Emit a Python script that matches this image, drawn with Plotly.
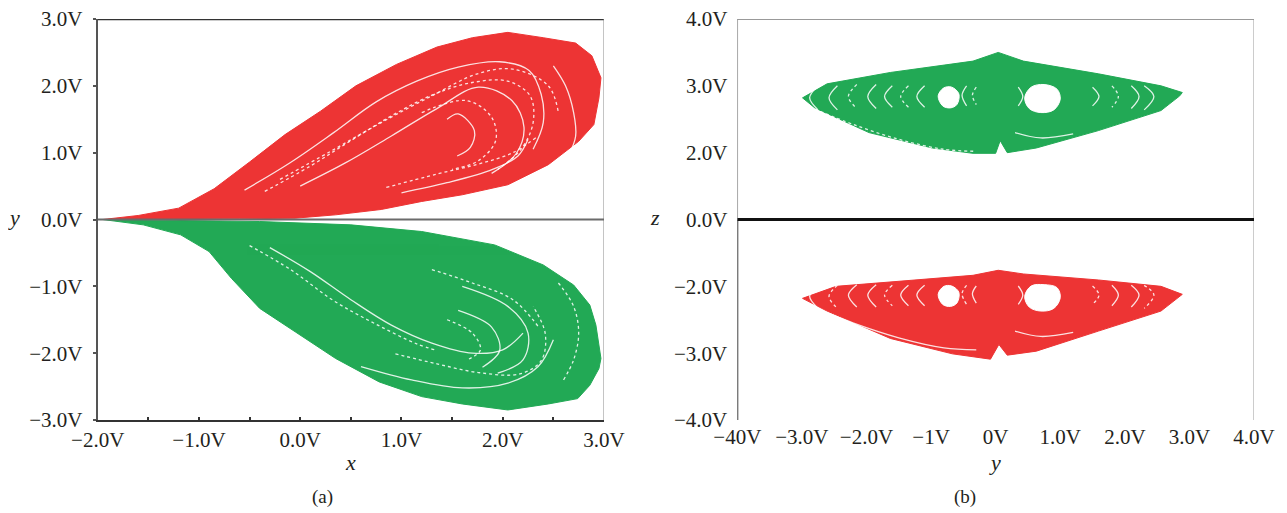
import numpy as np
import plotly.graph_objects as go

# the page body adds an 8 px offset, so the figure is sized to fill the 1287x513 window after it
OFF = 8
W, H = 1287 - OFF, 513 - OFF
RED = "#ED3434"
GREEN = "#22A955"
FONT = "Liberation Serif"
TXT = "#231f20"

# ---------------- panel (a): x-y phase portrait (outline of the attractor lobes) ----------
a_red_x = [-1.95, -1.6, -1.2, -0.85, -0.5, -0.15, 0.2, 0.55, 0.95, 1.35, 1.7, 2.05, 2.4, 2.72,
           2.88, 2.97, 2.95, 2.9, 2.75, 2.45, 2.05, 1.6, 1.2, 0.8, 0.35, -0.05, -0.6, -1.2, -1.95]
a_red_y = [0.0, 0.06, 0.17, 0.46, 0.86, 1.27, 1.62, 2.0, 2.32, 2.58, 2.72, 2.8, 2.72, 2.64,
           2.45, 2.12, 1.82, 1.42, 1.17, 0.82, 0.52, 0.37, 0.27, 0.15, 0.07, 0.02, 0.01, 0.005, 0.0]

a_green_x = [-1.95, -1.55, -1.18, -0.9, -0.68, -0.4, -0.05, 0.35, 0.78, 1.2, 1.6, 2.05, 2.45, 2.74,
             2.86, 2.95, 2.97, 2.92, 2.86, 2.7, 2.4, 1.92, 1.2, 0.5, -0.4, -1.2, -1.95]
a_green_y = [0.0, -0.08, -0.23, -0.48, -0.88, -1.33, -1.68, -2.08, -2.43, -2.65, -2.76, -2.85, -2.76, -2.68,
             -2.48, -2.23, -2.08, -1.58, -1.28, -0.98, -0.68, -0.38, -0.18, -0.08, -0.03, -0.01, 0.0]

# white gaps between trajectory bands
a_red_gaps = [
    ([-0.55, -0.1, 0.33, 0.75, 1.15, 1.56, 1.97, 2.26, 2.38, 2.4, 2.3],
     [0.44, 0.85, 1.3, 1.76, 2.07, 2.28, 2.36, 2.23, 1.87, 1.45, 1.05]),
    ([-0.35, 0.1, 0.5, 0.9, 1.3, 1.7, 2.05, 2.27, 2.3, 2.18, 1.95],
     [0.42, 0.8, 1.18, 1.55, 1.86, 2.05, 2.07, 1.85, 1.45, 1.05, 0.75]),
    ([0.0, 0.45, 0.9, 1.35, 1.76, 2.09, 2.21, 2.13, 1.89],
     [0.5, 0.85, 1.25, 1.66, 1.98, 1.78, 1.38, 0.98, 0.69]),
    ([1.2, 1.64, 1.89, 1.93, 1.76, 1.5], [1.6, 1.78, 1.53, 1.18, 0.88, 0.75]),
    ([1.45, 1.56, 1.72, 1.68, 1.55], [1.5, 1.58, 1.33, 1.08, 0.95]),
    ([0.85, 1.35, 1.76, 2.1, 2.35], [0.48, 0.68, 0.83, 1.0, 1.25]),
    ([2.5, 2.62, 2.7, 2.72, 2.65], [2.3, 2.0, 1.6, 1.25, 0.95]),
    ([-0.2, 0.3, 0.8, 1.3, 1.75, 2.1, 2.45, 2.55], [0.6, 1.02, 1.45, 1.85, 2.18, 2.25, 2.0, 1.6]),
    ([1.0, 1.45, 1.9, 2.15, 2.25], [0.4, 0.55, 0.75, 0.95, 1.2]),
]
a_green_gaps = [
    ([-0.5, -0.085, 0.325, 0.74, 1.15, 1.35], [-0.39, -0.76, -1.21, -1.56, -1.86, -1.96]),
    ([-0.3, 0.1, 0.5, 0.9, 1.3, 1.7, 2.0, 2.2], [-0.42, -0.78, -1.2, -1.58, -1.85, -2.0, -1.95, -1.7]),
    ([0.94, 1.35, 1.76, 2.17, 2.38, 2.42, 2.3], [-2.01, -2.16, -2.29, -2.31, -2.11, -1.71, -1.3]),
    ([1.56, 1.89, 1.97, 1.8], [-1.36, -1.61, -1.96, -2.21]),
    ([1.45, 1.7, 1.78, 1.65], [-1.5, -1.7, -1.95, -2.1]),
    ([1.6, 2.05, 2.25, 2.2, 1.95], [-1.0, -1.3, -1.7, -2.1, -2.3]),
    ([2.55, 2.7, 2.75, 2.7, 2.6], [-0.95, -1.3, -1.7, -2.1, -2.4]),
    ([0.6, 1.1, 1.6, 2.05, 2.35, 2.5], [-2.2, -2.4, -2.52, -2.45, -2.2, -1.8]),
    ([1.3, 1.7, 2.1, 2.35], [-0.75, -0.95, -1.2, -1.6]),
]

a_xticks = [-2.0, -1.5, -1.0, -0.5, 0.0, 0.5, 1.0, 1.5, 2.0, 2.5, 3.0]
a_xlabels = ["\u22122.0V", "", "\u22121.0V", "", "0.0V", "", "1.0V", "", "2.0V", "", "3.0V"]
a_yticks = [-3, -2, -1, 0, 1, 2, 3]
a_ylabels = ["\u22123.0V", "\u22122.0V", "\u22121.0V", "0.0V", "1.0V", "2.0V", "3.0V"]

# ---------------- panel (b): y-z phase portrait ----------------
b_green_y = [-2.99, -2.61, -1.63, -0.35, 0.04, 0.43, 1.59, 2.56, 2.89, 2.85, 2.56, 1.59, 0.63, 0.18,
             0.07, 0.0, -0.35, -0.98, -1.96, -2.8, -2.99]
b_green_z = [2.82, 3.03, 3.2, 3.37, 3.5, 3.37, 3.18, 3.0, 2.9, 2.85, 2.63, 2.33, 2.07, 2.0,
             2.18, 1.98, 1.98, 2.07, 2.3, 2.67, 2.82]
b_red_y = [-2.99, -2.47, -1.31, -0.35, 0.04, 0.43, 1.59, 2.56, 2.89, 2.85, 2.56, 1.59, 0.63, 0.18,
           0.05, -0.08, -0.67, -1.63, -2.61, -2.99]
b_red_z = [-2.18, -2.0, -1.82, -1.67, -1.52, -1.63, -1.81, -2.0, -2.12, -2.15, -2.37, -2.67, -2.97, -3.03,
           -2.87, -3.09, -3.01, -2.78, -2.37, -2.18]

b_green_holes = [
    ([-0.89, -0.8, -0.68, -0.57, -0.6, -0.7, -0.82, -0.89], [2.85, 2.97, 2.98, 2.88, 2.72, 2.67, 2.7, 2.85]),
    ([0.45, 0.55, 0.75, 0.95, 1.0, 0.9, 0.7, 0.52, 0.45], [2.82, 2.98, 3.02, 2.95, 2.8, 2.64, 2.6, 2.66, 2.82]),
]
b_red_holes = [
    ([-0.89, -0.8, -0.68, -0.57, -0.6, -0.7, -0.82, -0.89], [-2.12, -2.0, -1.99, -2.09, -2.25, -2.3, -2.27, -2.12]),
    ([0.45, 0.55, 0.75, 0.95, 1.0, 0.9, 0.7, 0.52, 0.45], [-2.15, -1.99, -1.95, -2.02, -2.17, -2.33, -2.37, -2.31, -2.15]),
]
b_green_gaps = [
    ([-2.75, -2.88, -2.75], [3.0, 2.82, 2.64]),
    ([-2.45, -2.58, -2.45], [3.0, 2.82, 2.64]),
    ([-2.15, -2.28, -2.15], [3.02, 2.84, 2.66]),
    ([-1.85, -1.98, -1.85], [3.02, 2.84, 2.66]),
    ([-1.6, -1.72, -1.6], [3.0, 2.84, 2.68]),
    ([-1.35, -1.47, -1.35], [3.0, 2.84, 2.68]),
    ([-1.1, -1.22, -1.1], [3.0, 2.84, 2.68]),
    ([-0.45, -0.52, -0.45], [3.0, 2.86, 2.7]),
    ([-0.3, -0.36, -0.3], [2.98, 2.86, 2.72]),
    ([0.35, 0.42, 0.35], [2.98, 2.84, 2.7]),
    ([1.5, 1.6, 1.5], [2.98, 2.84, 2.7]),
    ([1.8, 1.9, 1.8], [3.0, 2.84, 2.68]),
    ([2.1, 2.22, 2.1], [3.0, 2.84, 2.66]),
    ([2.3, 2.45, 2.3], [3.0, 2.84, 2.64]),
    ([-2.8, -2.2, -1.5, -0.8, -0.3], [2.65, 2.42, 2.2, 2.05, 2.02]),
    ([0.3, 0.7, 1.2], [2.3, 2.22, 2.28]),
]
b_red_gaps = [
    ([-2.75, -2.88, -2.75], [-1.97, -2.15, -2.33]),
    ([-2.45, -2.58, -2.45], [-1.97, -2.15, -2.33]),
    ([-2.15, -2.28, -2.15], [-1.95, -2.13, -2.31]),
    ([-1.85, -1.98, -1.85], [-1.95, -2.13, -2.31]),
    ([-1.6, -1.72, -1.6], [-1.97, -2.13, -2.29]),
    ([-1.35, -1.47, -1.35], [-1.97, -2.13, -2.29]),
    ([-1.1, -1.22, -1.1], [-1.97, -2.13, -2.29]),
    ([-0.45, -0.52, -0.45], [-1.97, -2.11, -2.27]),
    ([-0.3, -0.36, -0.3], [-1.99, -2.11, -2.25]),
    ([0.35, 0.42, 0.35], [-1.99, -2.13, -2.27]),
    ([1.5, 1.6, 1.5], [-1.99, -2.13, -2.27]),
    ([1.8, 1.9, 1.8], [-1.97, -2.13, -2.29]),
    ([2.1, 2.22, 2.1], [-1.97, -2.13, -2.31]),
    ([2.3, 2.45, 2.3], [-1.97, -2.13, -2.33]),
    ([-2.8, -2.2, -1.5, -0.8, -0.3], [-2.32, -2.55, -2.77, -2.92, -2.95]),
    ([0.3, 0.7, 1.2], [-2.67, -2.75, -2.69]),
]

b_yticks = [-4, -3, -2, -1, 0, 1, 2, 3, 4]
b_ylabels = ["\u221240V", "\u22123.0V", "\u22122.0V", "\u22121V", "0V", "1.0V", "2.0V", "3.0V", "4.0V"]
# the z axis of panel (b) is printed with equally spaced labels 4,3,2,0,-2,-3,-4
b_zticks = [-4.0, -3.0, -2.0, 0.0, 2.0, 3.0, 4.0]
b_zlabels = ["\u22124.0V", "\u22123.0V", "\u22122.0V", "0.0V", "2.0V", "3.0V", "4.0V"]
b_zpos = list(range(len(b_zticks)))
zmid = (len(b_zticks) - 1) / 2


def zscale(v):
    return list(np.interp(v, b_zticks, b_zpos) - zmid)


def PX(px):
    return (px - OFF) / W


def PY(py):
    return 1 - (py - OFF) / H


fig = go.Figure()

# panel (a)
fig.add_trace(go.Scatter(x=a_red_x, y=a_red_y, fill="toself", fillcolor=RED, mode="lines",
                         line=dict(color=RED, width=1), xaxis="x", yaxis="y", hoverinfo="skip"))
fig.add_trace(go.Scatter(x=a_green_x, y=a_green_y, fill="toself", fillcolor=GREEN, mode="lines",
                         line=dict(color=GREEN, width=1), xaxis="x", yaxis="y", hoverinfo="skip"))
for i, (gx, gy) in enumerate(a_red_gaps + a_green_gaps):
    fig.add_trace(go.Scatter(x=gx, y=gy, mode="lines", xaxis="x", yaxis="y", hoverinfo="skip",
                             line=dict(color="white", width=1.3, shape="spline",
                                       dash="dot" if i % 2 else "solid"), opacity=0.85))

# panel (b)
fig.add_trace(go.Scatter(x=b_green_y, y=zscale(b_green_z), fill="toself", fillcolor=GREEN, mode="lines",
                         line=dict(color=GREEN, width=1), xaxis="x2", yaxis="y2", hoverinfo="skip"))
fig.add_trace(go.Scatter(x=b_red_y, y=zscale(b_red_z), fill="toself", fillcolor=RED, mode="lines",
                         line=dict(color=RED, width=1), xaxis="x2", yaxis="y2", hoverinfo="skip"))
for hy, hz in b_green_holes + b_red_holes:
    fig.add_trace(go.Scatter(x=hy, y=zscale(hz), fill="toself", fillcolor="white", mode="lines",
                             line=dict(color="white", width=1, shape="spline"),
                             xaxis="x2", yaxis="y2", hoverinfo="skip"))
for i, (gy, gz) in enumerate(b_green_gaps + b_red_gaps):
    fig.add_trace(go.Scatter(x=gy, y=zscale(gz), mode="lines", xaxis="x2", yaxis="y2", hoverinfo="skip",
                             line=dict(color="white", width=1.3, shape="spline",
                                       dash="dot" if i % 3 == 2 else "solid"), opacity=0.85))

# layout geometry (window pixels -> paper)
ya_dom = [PY(420), PY(19)]
xa_dom = [PX(97.7), PX(604)]
xb_dom = [PX(737.3), PX(1254)]
tickfont = dict(family=FONT, size=21, color=TXT)

fig.update_layout(
    width=W, height=H, margin=dict(l=0, r=0, t=0, b=0, autoexpand=False), showlegend=False,
    paper_bgcolor="white", plot_bgcolor="white",
    xaxis=dict(domain=xa_dom, range=[-2, 3], tickvals=a_xticks, ticktext=a_xlabels,
               showgrid=False, zeroline=False, showline=True, linecolor="#333", linewidth=2,
               ticks="inside", ticklen=3, tickwidth=2, tickcolor="#333", tickfont=tickfont,
               anchor="y", ticklabelstandoff=0, automargin=False, ticklabeloverflow="allow"),
    yaxis=dict(domain=ya_dom, range=[-3, 3], tickvals=a_yticks, ticktext=a_ylabels,
               showgrid=False, zeroline=False, showline=True, linecolor="#555", linewidth=2,
               ticks="outside", ticklen=3, tickwidth=1.5, tickcolor="#555", tickfont=tickfont,
               anchor="x", ticklabelstandoff=6, automargin=False, ticklabeloverflow="allow"),
    xaxis2=dict(domain=xb_dom, range=[-4, 4], tickvals=b_yticks, ticktext=b_ylabels,
                showgrid=False, zeroline=False, showline=False, ticks="", tickfont=tickfont,
                anchor="y2", ticklabelstandoff=2, automargin=False, ticklabeloverflow="allow"),
    yaxis2=dict(domain=ya_dom, range=[-zmid, zmid], tickvals=[p - zmid for p in b_zpos], ticktext=b_zlabels,
                showgrid=False, zeroline=False, showline=False, ticks="", tickfont=tickfont,
                anchor="x2", ticklabelstandoff=9, automargin=False, ticklabeloverflow="allow"),
)

shapes = [
    # panel (a)
    dict(type="line", xref="x", yref="y", x0=-2, x1=3, y0=3, y1=3, line=dict(color="#333", width=2.5), layer="above"),
    dict(type="line", xref="x", yref="y", x0=3, x1=3, y0=-3, y1=3, line=dict(color="#888", width=1), layer="above"),
    dict(type="line", xref="x", yref="y", x0=-2, x1=3, y0=0, y1=0, line=dict(color="#6b6b6b", width=2), layer="above"),
    # panel (b)
    dict(type="line", xref="x2", yref="y2", x0=-4, x1=4, y0=zmid, y1=zmid, line=dict(color="#777", width=1.5), layer="above"),
    dict(type="line", xref="x2", yref="y2", x0=4, x1=4, y0=-zmid, y1=zmid, line=dict(color="#999", width=1), layer="above"),
    dict(type="line", xref="x2", yref="y2", x0=-4, x1=-4, y0=0, y1=zmid, line=dict(color="#8a8a8a", width=1.5), layer="above"),
    dict(type="line", xref="x2", yref="y2", x0=-4, x1=-4, y0=-zmid, y1=0, line=dict(color="#444", width=2), layer="above"),
    dict(type="line", xref="x2", yref="y2", x0=-4, x1=4, y0=0, y1=0, line=dict(color="#111", width=3), layer="above"),
]
fig.update_layout(shapes=shapes)


def ann(text, px, py, size=20, italic=False):
    return dict(text=f"<i>{text}</i>" if italic else text, x=PX(px), y=PY(py), xref="paper", yref="paper",
                showarrow=False, font=dict(family=FONT, size=size, color=TXT), xanchor="center", yanchor="middle")


fig.update_layout(annotations=[
    ann("y", 14, 218, 22, True),
    ann("x", 350, 462, 22, True),
    ann("(a)", 322, 497, 19),
    ann("z", 655, 218, 22, True),
    ann("y", 995, 462, 22, True),
    ann("(b)", 965, 497, 19),
])

fig.write_html("out.html")
